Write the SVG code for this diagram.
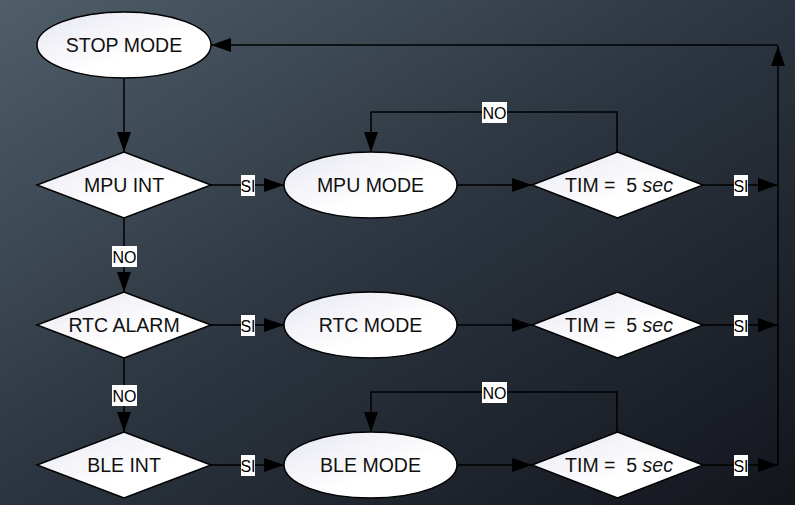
<svg xmlns="http://www.w3.org/2000/svg" width="795" height="505" viewBox="0 0 795 505">
  <defs>
    <linearGradient id="bg" x1="0" y1="0" x2="1" y2="1">
      <stop offset="0" stop-color="#4f5e69"/>
      <stop offset="0.5" stop-color="#2b343f"/>
      <stop offset="1" stop-color="#13151c"/>
    </linearGradient>
    <linearGradient id="nodeFill" x1="0" y1="0" x2="1" y2="1">
      <stop offset="0" stop-color="#e6e6f2"/>
      <stop offset="0.6" stop-color="#ffffff"/>
      <stop offset="1" stop-color="#ffffff"/>
    </linearGradient>
    <marker id="arrow" markerUnits="userSpaceOnUse" markerWidth="20" markerHeight="14" refX="20" refY="7" orient="auto">
      <path d="M0,0 L20,7 L0,14 z" fill="#000"/>
    </marker>
  </defs>
  <style>
    .node { fill: url(#nodeFill); stroke: #000; stroke-width: 1.5; }
    .txt { font-family: "Liberation Sans", Arial, sans-serif; font-size: 19.5px; fill: #111; text-anchor: middle; dominant-baseline: central; }
    .edge { fill: none; stroke: #000; stroke-width: 1.5; marker-end: url(#arrow); }
    .lblbox { fill: #fff; }
    .lbl { font-family: "Liberation Sans", Arial, sans-serif; font-size: 16px; fill: #000; text-anchor: middle; dominant-baseline: central; }
  </style>

  <rect width="795" height="505" fill="url(#bg)"/>

  <!-- connectors -->
  <g id="connectors">
    <path class="edge" d="M124,78 V152"/>
    <path class="edge" d="M211,185 H284"/>
    <path class="edge" d="M124,218 V292"/>
    <path class="edge" d="M211,325 H284"/>
    <path class="edge" d="M124,358 V432"/>
    <path class="edge" d="M211,465 H284"/>

    <path class="edge" d="M457,185 H532"/>
    <path class="edge" d="M457,325 H532"/>
    <path class="edge" d="M457,465 H532"/>

    <path class="edge" d="M617,152 V112 H371 V152"/>
    <path class="edge" d="M617,432 V392 H371 V432"/>

    <path class="edge" d="M703,185 H778"/>
    <path class="edge" d="M703,325 H778"/>
    <path class="edge" d="M703,465 H778"/>

    <path class="edge" d="M778,465 V46"/>
    <path class="edge" d="M778,45 H211"/>

    <!-- edge labels -->
    <rect class="lblbox" x="241" y="175" width="14" height="21"/>
    <text class="lbl" x="248" y="186">SI</text>
    <rect class="lblbox" x="241" y="315" width="14" height="21"/>
    <text class="lbl" x="248" y="326">SI</text>
    <rect class="lblbox" x="241" y="455" width="14" height="21"/>
    <text class="lbl" x="248" y="466">SI</text>

    <rect class="lblbox" x="734" y="175" width="14" height="21"/>
    <text class="lbl" x="741" y="186">SI</text>
    <rect class="lblbox" x="734" y="315" width="14" height="21"/>
    <text class="lbl" x="741" y="326">SI</text>
    <rect class="lblbox" x="734" y="455" width="14" height="21"/>
    <text class="lbl" x="741" y="466">SI</text>

    <rect class="lblbox" x="112" y="246" width="25" height="21"/>
    <text class="lbl" x="124.5" y="257">NO</text>
    <rect class="lblbox" x="112" y="385" width="25" height="21"/>
    <text class="lbl" x="124.5" y="396">NO</text>

    <rect class="lblbox" x="482" y="102" width="25" height="21"/>
    <text class="lbl" x="494.5" y="113">NO</text>
    <rect class="lblbox" x="482" y="382" width="25" height="21"/>
    <text class="lbl" x="494.5" y="393">NO</text>
  </g>

  <!-- nodes -->
  <g id="stop-mode">
    <ellipse class="node" cx="124" cy="45" rx="87" ry="33"/>
    <text class="txt" x="124" y="45">STOP MODE</text>
  </g>

  <g id="mpu-int">
    <polygon class="node" points="124,152 211,185 124,218 37,185"/>
    <text class="txt" x="124" y="185">MPU INT</text>
  </g>
  <g id="rtc-alarm">
    <polygon class="node" points="124,292 211,325 124,358 37,325"/>
    <text class="txt" x="124" y="325">RTC ALARM</text>
  </g>
  <g id="ble-int">
    <polygon class="node" points="124,432 211,465 124,498 37,465"/>
    <text class="txt" x="124" y="465">BLE INT</text>
  </g>

  <g id="mpu-mode">
    <ellipse class="node" cx="370.5" cy="185" rx="86.5" ry="33"/>
    <text class="txt" x="370.5" y="185">MPU MODE</text>
  </g>
  <g id="rtc-mode">
    <ellipse class="node" cx="370.5" cy="325" rx="86.5" ry="33"/>
    <text class="txt" x="370.5" y="325">RTC MODE</text>
  </g>
  <g id="ble-mode">
    <ellipse class="node" cx="370.5" cy="465" rx="86.5" ry="33"/>
    <text class="txt" x="370.5" y="465">BLE MODE</text>
  </g>

  <g id="tim-mpu">
    <polygon class="node" points="617.5,152 703,185 617.5,218 532,185"/>
    <text class="txt" x="619" y="185" xml:space="preserve">TIM =  5 <tspan font-style="italic">sec</tspan></text>
  </g>
  <g id="tim-rtc">
    <polygon class="node" points="617.5,292 703,325 617.5,358 532,325"/>
    <text class="txt" x="619" y="325" xml:space="preserve">TIM =  5 <tspan font-style="italic">sec</tspan></text>
  </g>
  <g id="tim-ble">
    <polygon class="node" points="617.5,432 703,465 617.5,498 532,465"/>
    <text class="txt" x="619" y="465" xml:space="preserve">TIM =  5 <tspan font-style="italic">sec</tspan></text>
  </g>
</svg>
